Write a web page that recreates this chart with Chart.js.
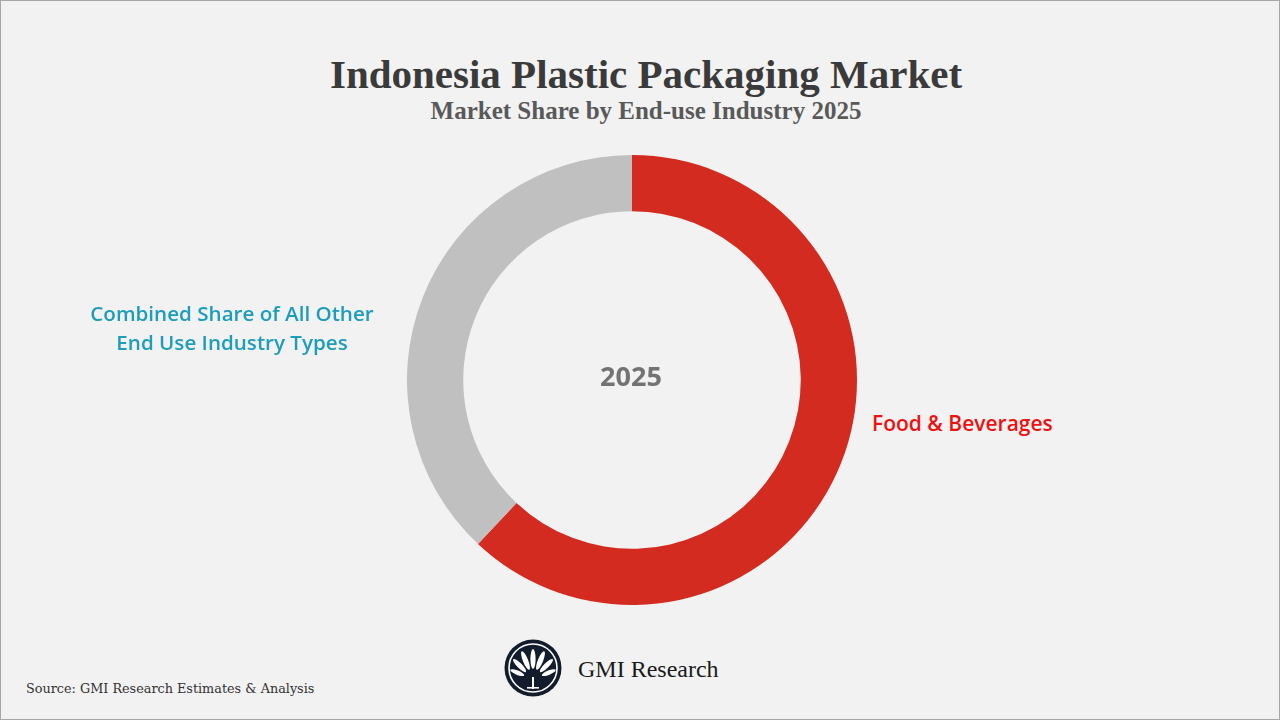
<!DOCTYPE html>
<html>
<head>
<meta charset="utf-8">
<script src="https://cdn.jsdelivr.net/npm/chart.js@4"></script>
<style>
  html, body { margin: 0; padding: 0; }
  body { width: 1280px; height: 720px; background: #f2f2f2; position: relative; overflow: hidden; box-sizing: border-box; border: 1px solid #a6a6a6; }
  .title { position: absolute; left: 0; width: 1290px; top: 49px; text-align: center; font-family: "Liberation Serif", serif; font-weight: bold; font-size: 41px; color: #3a3a3a; }
  .subtitle { position: absolute; left: 0; width: 1290px; top: 96px; text-align: center; font-family: "Liberation Serif", serif; font-weight: bold; font-size: 25px; color: #595959; }
  #wrap { position: absolute; left: 406px; top: 154px; width: 450px; height: 450px; }
  .lbl { position: absolute; font-family: "Open Sans", sans-serif; font-weight: 600; font-size: 20.6px; line-height: 29px; text-align: center; }
  #lblOther { left: 50px; width: 362px; top: 298px; color: #1b9dbb; }
  #lblFood { left: 871px; top: 408px; color: #ee1111; text-align: left; font-size: 21px; }
  #center { position: absolute; left: 530px; width: 200px; top: 356px; text-align: center; font-family: "Open Sans", sans-serif; font-weight: bold; font-size: 27px; color: #737373; }
  .brand { position: absolute; left: 577px; top: 655px; font-family: "Liberation Serif", serif; font-size: 24px; color: #1a1a1a; }
  .source { position: absolute; left: 25px; top: 680px; font-family: "DejaVu Serif", serif; font-size: 12.8px; color: #333; }
  .logo { position: absolute; left: 503px; top: 638px; }
</style>
</head>
<body>
<div class="title">Indonesia Plastic Packaging Market</div>
<div class="subtitle">Market Share by End-use Industry 2025</div>
<div id="wrap"><canvas id="donut" width="450" height="450"></canvas></div>
<div class="lbl" id="lblOther"></div>
<div class="lbl" id="lblFood"></div>
<div id="center"></div>

<svg class="logo" width="58" height="58" viewBox="0 0 58 58">
  <circle cx="29" cy="29" r="28.5" fill="#121c2c"/>
  <circle cx="29" cy="29" r="24" fill="none" stroke="#ffffff" stroke-width="1.6"/>
  <g fill="#ffffff">
    <ellipse cx="29" cy="20" rx="2.6" ry="10" transform="rotate(0 29 40)"/>
    <ellipse cx="29" cy="20" rx="2.6" ry="10" transform="rotate(-22 29 40)"/>
    <ellipse cx="29" cy="20" rx="2.6" ry="10" transform="rotate(22 29 40)"/>
    <ellipse cx="29" cy="21" rx="2.4" ry="9" transform="rotate(-45 29 40)"/>
    <ellipse cx="29" cy="21" rx="2.4" ry="9" transform="rotate(45 29 40)"/>
    <ellipse cx="29" cy="23" rx="2.2" ry="7.5" transform="rotate(-68 29 40)"/>
    <ellipse cx="29" cy="23" rx="2.2" ry="7.5" transform="rotate(68 29 40)"/>
    <rect x="28" y="38" width="2" height="12"/>
    <rect x="23" y="48" width="12" height="1.6"/>
  </g>
</svg>
<div class="brand">GMI Research</div>
<div class="source">Source: GMI Research Estimates &amp; Analysis</div>

<script>
// datos del gráfico
const categories = ['Food & Beverages', 'Combined Share of All Other End Use Industry Types'];
const shares = [62, 38];
const colors = ['#d42b20', '#c0c0c0'];
const yearLabel = '2025';

// etiquetas de texto
document.getElementById('lblFood').innerText = categories[0];
document.getElementById('lblOther').innerHTML = 'Combined Share of All Other<br>End Use Industry Types';
document.getElementById('center').innerText = yearLabel;

const ctx = document.getElementById('donut').getContext('2d');
new Chart(ctx, {
    type: 'doughnut',
    data: {
        labels: categories,
        datasets: [{
            data: shares,
            backgroundColor: colors,
            borderWidth: 0
        }]
    },
    options: {
        responsive: false,
        animation: false,
        cutout: '75%',
        layout: { padding: 0 },
        plugins: {
            legend: { display: false },
            tooltip: { enabled: false }
        }
    }
});
</script>
</body>
</html>
